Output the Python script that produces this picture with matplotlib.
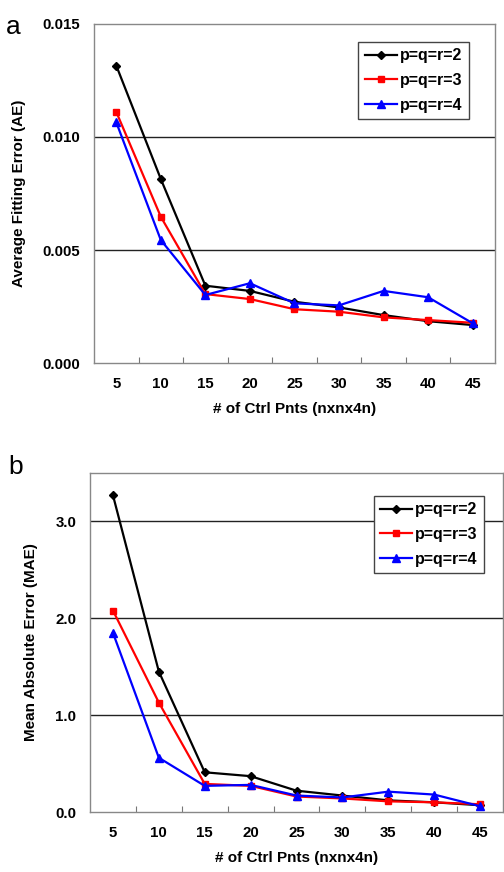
import numpy as np
import matplotlib.pyplot as plt

plt.rcParams['font.family'] = ['Liberation Sans', 'DejaVu Sans']

n_ctrl = ['5', '10', '15', '20', '25', '30', '35', '40', '45']
labels = ['p=q=r=2', 'p=q=r=3', 'p=q=r=4']

# (a) average fitting error
ae_p2 = [0.01316, 0.00814, 0.00342, 0.00319, 0.00271, 0.00246, 0.00212, 0.00185, 0.00168]
ae_p3 = [0.01111, 0.00647, 0.00305, 0.00283, 0.00238, 0.00227, 0.00202, 0.00190, 0.00178]
ae_p4 = [0.01065, 0.00544, 0.00301, 0.00353, 0.00264, 0.00255, 0.00319, 0.00291, 0.00176]

# (b) mean absolute error
mae_p2 = [3.27, 1.45, 0.41, 0.37, 0.22, 0.17, 0.12, 0.10, 0.07]
mae_p3 = [2.08, 1.13, 0.29, 0.27, 0.16, 0.14, 0.11, 0.10, 0.08]
mae_p4 = [1.85, 0.56, 0.27, 0.28, 0.17, 0.15, 0.21, 0.18, 0.06]

colors = ['black', '#ff0000', '#0000ff']
markers = ['D', 's', '^']
msizes = [4.5, 5, 6]

fig = plt.figure(figsize=(5.04, 8.72), dpi=100)
ax1 = fig.add_axes([0.1865, 0.5837, 0.7955, 0.3888])
ax2 = fig.add_axes([0.1786, 0.0688, 0.8194, 0.3888])


def draw(ax, series, yticks, ylim, fmt, ylabel, legend_anchor):
    x = np.arange(len(n_ctrl))
    for s, c, m, ms, lab in zip(series, colors, markers, msizes, labels):
        ax.plot(x, s, color=c, marker=m, markersize=ms, linewidth=1.6, label=lab, zorder=3)
    ax.set_xlim(-0.5, len(n_ctrl) - 0.5)
    ax.set_ylim(*ylim)
    ax.set_yticks(yticks)
    ax.set_yticklabels([fmt.format(v) for v in yticks], fontweight='bold', fontsize=10.8)
    ax.tick_params(axis='y', length=0, pad=10)
    # category separators as ticks
    ax.set_xticks(np.arange(0.5, len(n_ctrl) - 1, 1.0))
    ax.set_xticklabels([])
    ax.tick_params(axis='x', which='major', length=4, color='#777777', direction='in')
    ax.set_xticks(x, minor=True)
    ax.set_xticklabels(n_ctrl, minor=True, fontweight='bold', fontsize=10.8)
    ax.tick_params(axis='x', which='minor', length=0, pad=10)
    for v in yticks[1:]:
        if v < ylim[1]:
            ax.axhline(v, color='#222222', linewidth=1.0, zorder=1)
    for sp in ax.spines.values():
        sp.set_color('#888888')
        sp.set_linewidth(1.0)
    ax.set_xlabel('# of Ctrl Pnts (nxnx4n)', fontweight='bold', fontsize=11, labelpad=8)
    ax.set_ylabel(ylabel, fontweight='bold', fontsize=11, labelpad=12)
    leg = ax.legend(loc='upper right', bbox_to_anchor=legend_anchor, borderaxespad=0,
                    fancybox=False, edgecolor='#444444', framealpha=1,
                    prop={'weight': 'bold', 'size': 11.5},
                    handlelength=2.0, handletextpad=0.2, borderpad=0.4, labelspacing=0.6)
    leg.get_frame().set_linewidth(1.0)


draw(ax1, [ae_p2, ae_p3, ae_p4], [0.0, 0.005, 0.010, 0.015], (0.0, 0.015),
     '{:.3f}', 'Average Fitting Error (AE)', (0.935, 0.947))
draw(ax2, [mae_p2, mae_p3, mae_p4], [0.0, 1.0, 2.0, 3.0], (0.0, 3.5),
     '{:.1f}', 'Mean Absolute Error (MAE)', (0.954, 0.932))

fig.text(0.012, 0.983, 'a', fontsize=19, va='top')
fig.text(0.016, 0.478, 'b', fontsize=19, va='top')

fig.savefig('out.png', dpi=100)
